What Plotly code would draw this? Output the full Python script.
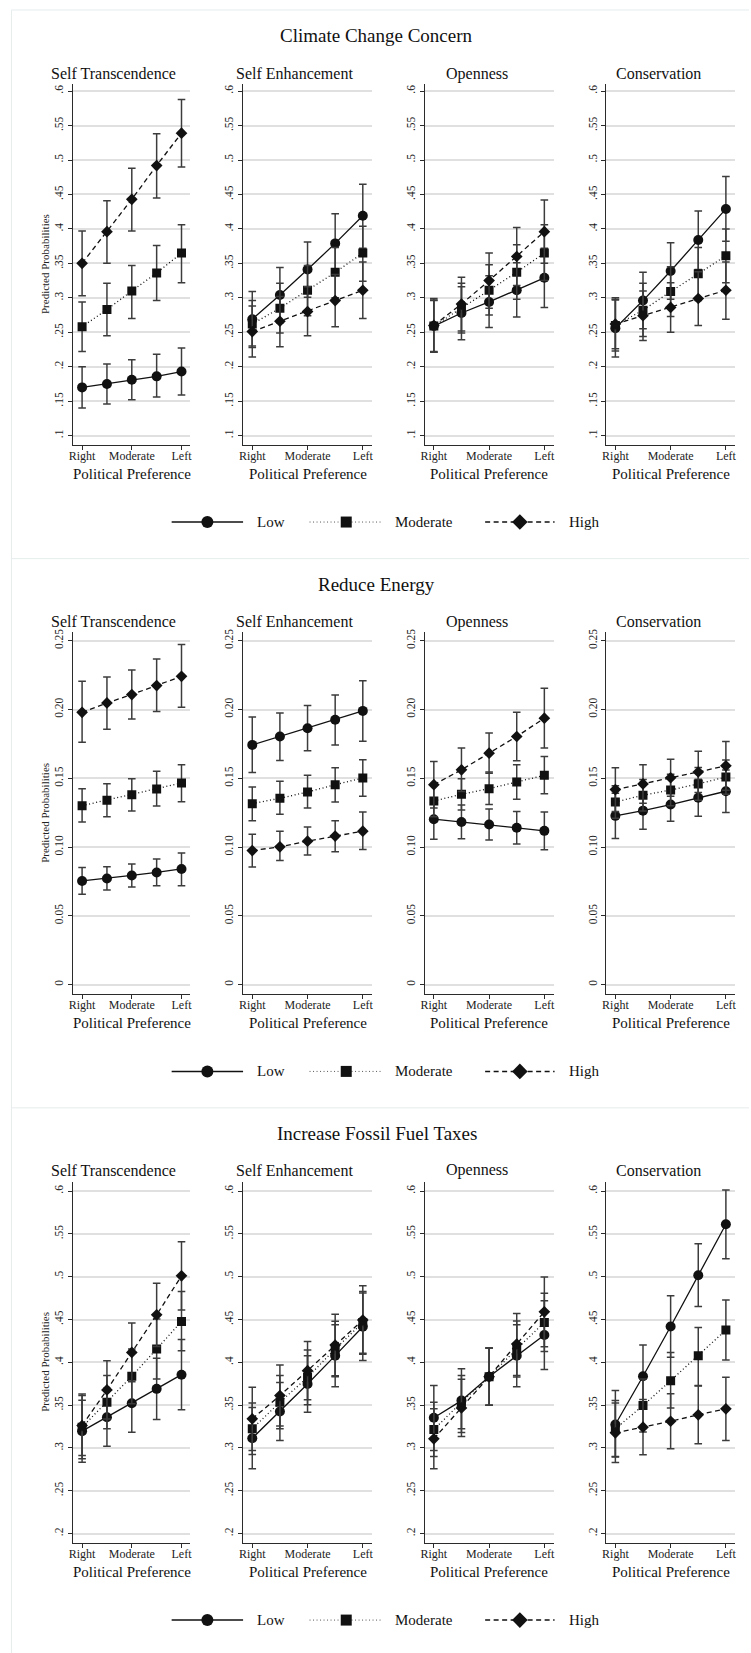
import plotly.graph_objects as go

W, H = 751, 1653
FONT = "Liberation Serif"

# ---- categories / labels -------------------------------------------------
POSITIONS = [1, 2, 3, 4, 5]
X_TICKVALS = [1, 3, 5]
X_TICKTEXT = ["Right", "Moderate", "Left"]
LEVELS = ["Low", "Moderate", "High"]
DIMENSIONS = ["Self Transcendence", "Self Enhancement", "Openness", "Conservation"]
OUTCOMES = ["Climate Change Concern", "Reduce Energy", "Increase Fossil Fuel Taxes"]

CC_YTICKS = [0.1, 0.15, 0.2, 0.25, 0.3, 0.35, 0.4, 0.45, 0.5, 0.55, 0.6]
CC_YTEXT = [".1", ".15", ".2", ".25", ".3", ".35", ".4", ".45", ".5", ".55", ".6"]
RE_YTICKS = [0, 0.05, 0.1, 0.15, 0.2, 0.25]
RE_YTEXT = ["0", "0.05", "0.10", "0.15", "0.20", "0.25"]
FT_YTICKS = [0.2, 0.25, 0.3, 0.35, 0.4, 0.45, 0.5, 0.55, 0.6]
FT_YTEXT = [".2", ".25", ".3", ".35", ".4", ".45", ".5", ".55", ".6"]

# ---- Climate Change Concern: estimates and 95% CI bounds -----------------
cc_st_low = [0.170, 0.175, 0.181, 0.186, 0.193]
cc_st_low_lo = [0.140, 0.146, 0.152, 0.156, 0.159]
cc_st_low_hi = [0.200, 0.204, 0.210, 0.218, 0.227]
cc_st_mod = [0.258, 0.283, 0.310, 0.336, 0.365]
cc_st_mod_lo = [0.222, 0.245, 0.270, 0.296, 0.322]
cc_st_mod_hi = [0.294, 0.321, 0.347, 0.376, 0.406]
cc_st_high = [0.350, 0.396, 0.443, 0.492, 0.539]
cc_st_high_lo = [0.303, 0.350, 0.397, 0.445, 0.490]
cc_st_high_hi = [0.397, 0.441, 0.488, 0.538, 0.588]

cc_se_low = [0.269, 0.304, 0.341, 0.379, 0.419]
cc_se_low_lo = [0.230, 0.264, 0.301, 0.336, 0.372]
cc_se_low_hi = [0.309, 0.344, 0.381, 0.422, 0.465]
cc_se_mod = [0.262, 0.285, 0.311, 0.337, 0.365]
cc_se_mod_lo = [0.228, 0.249, 0.274, 0.300, 0.324]
cc_se_mod_hi = [0.296, 0.321, 0.347, 0.373, 0.404]
cc_se_high = [0.251, 0.266, 0.280, 0.296, 0.311]
cc_se_high_lo = [0.214, 0.229, 0.245, 0.258, 0.270]
cc_se_high_hi = [0.288, 0.302, 0.316, 0.334, 0.352]

cc_op_low = [0.259, 0.278, 0.294, 0.311, 0.329]
cc_op_low_lo = [0.221, 0.239, 0.257, 0.272, 0.286]
cc_op_low_hi = [0.297, 0.316, 0.332, 0.351, 0.372]
cc_op_mod = [0.259, 0.285, 0.311, 0.337, 0.365]
cc_op_mod_lo = [0.222, 0.249, 0.275, 0.298, 0.325]
cc_op_mod_hi = [0.296, 0.321, 0.348, 0.377, 0.406]
cc_op_high = [0.260, 0.291, 0.325, 0.360, 0.396]
cc_op_high_lo = [0.221, 0.252, 0.285, 0.318, 0.350]
cc_op_high_hi = [0.299, 0.330, 0.365, 0.402, 0.442]

cc_co_low = [0.256, 0.296, 0.339, 0.384, 0.429]
cc_co_low_lo = [0.214, 0.255, 0.298, 0.341, 0.382]
cc_co_low_hi = [0.300, 0.337, 0.380, 0.426, 0.476]
cc_co_mod = [0.260, 0.282, 0.309, 0.335, 0.361]
cc_co_mod_lo = [0.223, 0.244, 0.273, 0.296, 0.322]
cc_co_mod_hi = [0.297, 0.321, 0.345, 0.373, 0.400]
cc_co_high = [0.262, 0.274, 0.286, 0.299, 0.311]
cc_co_high_lo = [0.226, 0.238, 0.250, 0.260, 0.269]
cc_co_high_hi = [0.298, 0.310, 0.322, 0.338, 0.352]

# ---- Reduce Energy ---------------------------------------------------------
re_st_low = [0.0754, 0.0772, 0.0794, 0.0816, 0.0841]
re_st_low_lo = [0.0657, 0.0688, 0.0710, 0.0720, 0.0720]
re_st_low_hi = [0.0852, 0.0857, 0.0877, 0.0913, 0.0957]
re_st_mod = [0.1301, 0.1341, 0.1381, 0.1422, 0.1466]
re_st_mod_lo = [0.1183, 0.1220, 0.1263, 0.1299, 0.1330]
re_st_mod_hi = [0.1425, 0.1461, 0.1497, 0.1551, 0.1599]
re_st_high = [0.1980, 0.2048, 0.2109, 0.2174, 0.2241]
re_st_high_lo = [0.1763, 0.1857, 0.1932, 0.1986, 0.2017]
re_st_high_hi = [0.2205, 0.2236, 0.2287, 0.2367, 0.2473]

re_se_low = [0.1743, 0.1804, 0.1864, 0.1925, 0.1990]
re_se_low_lo = [0.1543, 0.1630, 0.1700, 0.1743, 0.1770]
re_se_low_hi = [0.1946, 0.1975, 0.2029, 0.2106, 0.2210]
re_se_mod = [0.1316, 0.1355, 0.1400, 0.1454, 0.1502]
re_se_mod_lo = [0.1191, 0.1239, 0.1285, 0.1328, 0.1370]
re_se_mod_hi = [0.1437, 0.1478, 0.1522, 0.1577, 0.1635]
re_se_high = [0.0975, 0.1002, 0.1043, 0.1080, 0.1116]
re_se_high_lo = [0.0855, 0.0903, 0.0942, 0.0966, 0.0983]
re_se_high_hi = [0.1094, 0.1116, 0.1147, 0.1191, 0.1256]

re_op_low = [0.1203, 0.1183, 0.1164, 0.1140, 0.1118]
re_op_low_lo = [0.1058, 0.1060, 0.1051, 0.1022, 0.0980]
re_op_low_hi = [0.1348, 0.1306, 0.1277, 0.1258, 0.1256]
re_op_mod = [0.1335, 0.1384, 0.1425, 0.1473, 0.1522]
re_op_mod_lo = [0.1220, 0.1270, 0.1309, 0.1348, 0.1388]
re_op_mod_hi = [0.1450, 0.1497, 0.1546, 0.1599, 0.1659]
re_op_high = [0.1454, 0.1562, 0.1683, 0.1804, 0.1937]
re_op_high_lo = [0.1285, 0.1404, 0.1536, 0.1628, 0.1720]
re_op_high_hi = [0.1623, 0.1720, 0.1830, 0.1980, 0.2154]

re_co_low = [0.1227, 0.1265, 0.1309, 0.1359, 0.1406]
re_co_low_lo = [0.1062, 0.1130, 0.1188, 0.1225, 0.1251]
re_co_low_hi = [0.1392, 0.1400, 0.1430, 0.1493, 0.1561]
re_co_mod = [0.1328, 0.1377, 0.1415, 0.1459, 0.1509]
re_co_mod_lo = [0.1210, 0.1262, 0.1300, 0.1340, 0.1385]
re_co_mod_hi = [0.1446, 0.1492, 0.1530, 0.1578, 0.1633]
re_co_high = [0.1418, 0.1459, 0.1504, 0.1546, 0.1591]
re_co_high_lo = [0.1259, 0.1319, 0.1370, 0.1396, 0.1414]
re_co_high_hi = [0.1577, 0.1599, 0.1638, 0.1696, 0.1768]

# ---- Increase Fossil Fuel Taxes -------------------------------------------
ft_st_low = [0.3196, 0.3359, 0.3522, 0.3690, 0.3856]
ft_st_low_lo = [0.2834, 0.3020, 0.3184, 0.3332, 0.3445]
ft_st_low_hi = [0.3558, 0.3698, 0.3860, 0.4048, 0.4267]
ft_st_mod = [0.3243, 0.3534, 0.3837, 0.4156, 0.4478]
ft_st_mod_lo = [0.2874, 0.3224, 0.3517, 0.3806, 0.4136]
ft_st_mod_hi = [0.3612, 0.3845, 0.4157, 0.4506, 0.4827]
ft_st_high = [0.3262, 0.3678, 0.4116, 0.4555, 0.5010]
ft_st_high_lo = [0.2913, 0.3337, 0.3773, 0.4185, 0.4610]
ft_st_high_hi = [0.3631, 0.4019, 0.4459, 0.4925, 0.5409]

ft_se_low = [0.3114, 0.3425, 0.3748, 0.4078, 0.4415]
ft_se_low_lo = [0.2757, 0.3087, 0.3418, 0.3716, 0.4020]
ft_se_low_hi = [0.3471, 0.3763, 0.4078, 0.4440, 0.4810]
ft_se_mod = [0.3224, 0.3534, 0.3825, 0.4156, 0.4466]
ft_se_mod_lo = [0.2924, 0.3223, 0.3505, 0.3833, 0.4106]
ft_se_mod_hi = [0.3524, 0.3845, 0.4145, 0.4479, 0.4826]
ft_se_high = [0.3340, 0.3612, 0.3903, 0.4202, 0.4494]
ft_se_high_lo = [0.2970, 0.3255, 0.3563, 0.3842, 0.4094]
ft_se_high_hi = [0.3709, 0.3969, 0.4243, 0.4563, 0.4894]

ft_op_low = [0.3352, 0.3553, 0.3833, 0.4078, 0.4319]
ft_op_low_lo = [0.2970, 0.3180, 0.3500, 0.3716, 0.3915]
ft_op_low_hi = [0.3728, 0.3926, 0.4166, 0.4440, 0.4720]
ft_op_mod = [0.3215, 0.3534, 0.3833, 0.4156, 0.4466]
ft_op_mod_lo = [0.2900, 0.3225, 0.3500, 0.3830, 0.4126]
ft_op_mod_hi = [0.3534, 0.3845, 0.4166, 0.4482, 0.4808]
ft_op_high = [0.3107, 0.3468, 0.3833, 0.4214, 0.4590]
ft_op_high_lo = [0.2757, 0.3134, 0.3500, 0.3845, 0.4182]
ft_op_high_hi = [0.3457, 0.3802, 0.4166, 0.4570, 0.4998]

ft_co_low = [0.3274, 0.3837, 0.4419, 0.5018, 0.5612]
ft_co_low_lo = [0.2900, 0.3470, 0.4060, 0.4652, 0.5211]
ft_co_low_hi = [0.3670, 0.4202, 0.4777, 0.5386, 0.6012]
ft_co_mod = [0.3224, 0.3495, 0.3786, 0.4078, 0.4377]
ft_co_mod_lo = [0.2894, 0.3185, 0.3468, 0.3728, 0.4027]
ft_co_mod_hi = [0.3554, 0.3805, 0.4116, 0.4407, 0.4727]
ft_co_high = [0.3177, 0.3243, 0.3312, 0.3387, 0.3457]
ft_co_high_lo = [0.2830, 0.2920, 0.2990, 0.3049, 0.3087]
ft_co_high_hi = [0.3524, 0.3566, 0.3634, 0.3725, 0.3827]

G = globals()
PREFIX = ["cc", "re", "ft"]
DIM_KEY = ["st", "se", "op", "co"]
LEVEL_KEY = ["low", "mod", "high"]

# ---- layout geometry (pixels) ---------------------------------------------
X_DOM_PX = [(69.7, 187.7), (241.0, 371.0), (424.3, 554.0), (607.3, 737.0)]
X_RANGES = [(0.64, 5.35), (0.667, 5.334), (0.677, 5.334), (0.677, 5.334)]
Y_DOM_PX = [(80.0, 442.0), (630.0, 992.3), (1180.7, 1542.3)]
Y_RANGES = [(0.0865, 0.6106), (-0.0067, 0.2560), (0.1895, 0.6108)]
Y_TICKS = [(CC_YTICKS, CC_YTEXT), (RE_YTICKS, RE_YTEXT), (FT_YTICKS, FT_YTEXT)]
TITLE_Y = [32, 582, 1132]
SUBTITLE_Y = [70, 619.3, 1169.3]
SUBTITLE_X = [110, 293, 477, 660]
XTITLE_Y = [471, 1021.7, 1571.7]
LEGEND_Y = [519.3, 1070, 1620]
PANEL_EDGES = [6, 556, 1106.5]


def px_x(p):
    return p / W


def px_y(p):
    return 1 - p / H


STYLE = {
    "Low": dict(dash="solid", symbol="circle", size=10, width=1.3),
    "Moderate": dict(dash="1px,2.6px", symbol="square", size=9, width=1.3),
    "High": dict(dash="5px,3.5px", symbol="diamond", size=9, width=1.3),
}
INK = "#111111"
BAR = "#3c3c3c"
AXIS = "#2b2b2b"
GRID = "#e0e0e0"

fig = go.Figure()
layout = {}
annotations = []

for p in range(3):
    for s in range(4):
        k = p * 4 + s + 1
        xa, ya = f"x{k}", f"y{k}"
        for li, lev in enumerate(LEVELS):
            base = f"{PREFIX[p]}_{DIM_KEY[s]}_{LEVEL_KEY[li]}"
            est, lo, hi = G[base], G[base + "_lo"], G[base + "_hi"]
            st = STYLE[lev]
            fig.add_trace(go.Scatter(
                x=POSITIONS, y=est, xaxis=xa, yaxis=ya, mode="lines+markers",
                line=dict(color=INK, width=st["width"], dash=st["dash"]),
                marker=dict(symbol=st["symbol"], size=st["size"], color=INK,
                            line=dict(width=0)),
                error_y=dict(type="data", symmetric=False,
                             array=[h - e for h, e in zip(hi, est)],
                             arrayminus=[e - l for e, l in zip(est, lo)],
                             color=BAR, thickness=1.5, width=3.8),
                showlegend=False, hoverinfo="skip",
            ))
        d0, d1 = X_DOM_PX[s]
        layout[f"xaxis{k}"] = dict(
            domain=[px_x(d0), px_x(d1)], anchor=ya, range=list(X_RANGES[s]),
            tickvals=X_TICKVALS, ticktext=X_TICKTEXT, ticks="outside", ticklen=4,
            tickwidth=1.1, tickcolor=AXIS, showline=True, linecolor=AXIS,
            linewidth=1.2, showgrid=False, zeroline=False, ticklabelstandoff=-4,
            tickfont=dict(family=FONT, size=12, color="#222"),
        )
        t0, t1 = Y_DOM_PX[p]
        tv, tt = Y_TICKS[p]
        layout[f"yaxis{k}"] = dict(
            domain=[px_y(t1), px_y(t0)], anchor=xa, range=list(Y_RANGES[p]),
            tickvals=tv, ticktext=tt, tickangle=-90, ticks="outside", ticklen=4,
            tickwidth=1.1, tickcolor=AXIS, showline=True, linecolor=AXIS,
            linewidth=1.2, showgrid=True, gridcolor=GRID, gridwidth=1.5,
            zeroline=False, tickfont=dict(family=FONT, size=11.5, color="#222"),
        )
        annotations.append(dict(
            text=DIMENSIONS[s], xref="paper", yref="paper",
            x=px_x(SUBTITLE_X[s]), y=px_y(SUBTITLE_Y[p]), xanchor="center",
            yanchor="middle", showarrow=False,
            font=dict(family=FONT, size=16, color="#111"),
        ))
        annotations.append(dict(
            text="Political Preference", xref="paper", yref="paper",
            x=px_x((d0 + d1) / 2), y=px_y(XTITLE_Y[p]), xanchor="center",
            yanchor="middle", showarrow=False,
            font=dict(family=FONT, size=15, color="#111"),
        ))
    annotations.append(dict(
        text=OUTCOMES[p], xref="paper", yref="paper", x=px_x(376),
        y=px_y(TITLE_Y[p]), xanchor="center", yanchor="middle", showarrow=False,
        font=dict(family=FONT, size=19, color="#111"),
    ))
    annotations.append(dict(
        text="Predicted Probabilities", xref="paper", yref="paper", x=px_x(42),
        y=px_y(sum(Y_DOM_PX[p]) / 2), xanchor="center", yanchor="middle",
        textangle=-90, showarrow=False,
        font=dict(family=FONT, size=11, color="#222"),
    ))

# ---- legend keys drawn on a pixel-scaled overlay axis ---------------------
KEY_SPANS = {"Low": (169, 241), "Moderate": (308, 382), "High": (485, 555)}
KEY_TEXT_X = {"Low": 253, "Moderate": 391.7, "High": 568}
KEY_LINE = {"Low": dict(width=1.5, dash="solid", color=INK),
            "Moderate": dict(width=1.0, dash="1px,2.5px", color="#555"),
            "High": dict(width=1.5, dash="5px,3.5px", color=INK)}
KEY_SIZE = {"Low": 12, "Moderate": 11, "High": 12}
for p in range(3):
    ly = LEGEND_Y[p]
    for lev in LEVELS:
        a, b = KEY_SPANS[lev]
        fig.add_trace(go.Scatter(
            x=[a, b], y=[ly, ly], xaxis="x13", yaxis="y13", mode="lines",
            line=KEY_LINE[lev], showlegend=False, hoverinfo="skip"))
        fig.add_trace(go.Scatter(
            x=[(a + b) / 2], y=[ly], xaxis="x13", yaxis="y13", mode="markers",
            marker=dict(symbol=STYLE[lev]["symbol"], size=KEY_SIZE[lev], color=INK),
            showlegend=False, hoverinfo="skip"))
        annotations.append(dict(
            text=lev, xref="paper", yref="paper", x=px_x(KEY_TEXT_X[lev]),
            y=px_y(ly), xanchor="left", yanchor="middle", showarrow=False,
            font=dict(family=FONT, size=15, color="#111")))

layout["xaxis13"] = dict(domain=[0, 1], range=[0, W], visible=False,
                         anchor="y13", fixedrange=True)
layout["yaxis13"] = dict(domain=[0, 1], range=[H, 0], visible=False,
                         anchor="x13", fixedrange=True)

# ---- faint panel frames ---------------------------------------------------
shapes = [dict(type="line", xref="paper", yref="paper", x0=px_x(7.5), x1=px_x(7.5),
               y0=px_y(PANEL_EDGES[0]), y1=0, line=dict(color="#e6ecec", width=1))]
for e in PANEL_EDGES:
    shapes.append(dict(type="line", xref="paper", yref="paper", x0=px_x(7.5), x1=1,
                       y0=px_y(e), y1=px_y(e), line=dict(color="#e6ecec", width=1)))

fig.update_layout(
    width=W, height=H, margin=dict(l=0, r=0, t=0, b=0),
    paper_bgcolor="white", plot_bgcolor="rgba(0,0,0,0)",
    annotations=annotations, shapes=shapes, showlegend=False,
    font=dict(family=FONT), **layout,
)

fig.write_html("out.html")
